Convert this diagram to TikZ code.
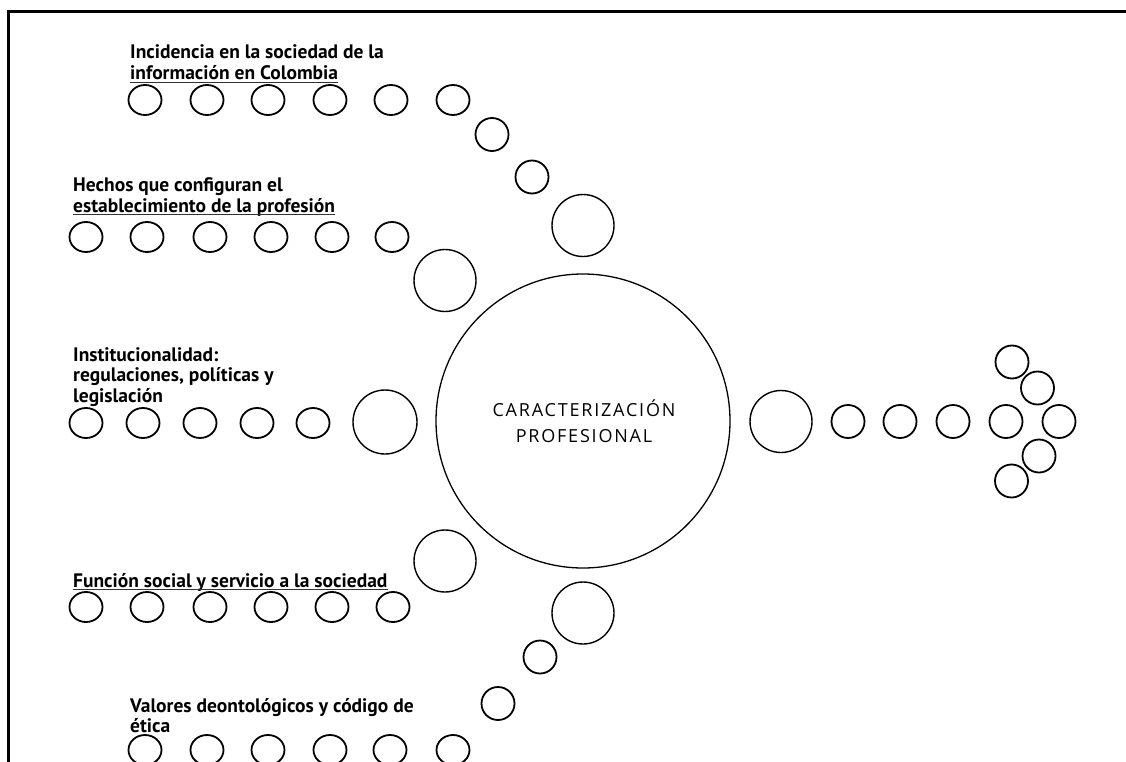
\documentclass[tikz,border=0pt]{standalone}
\usepackage{fontspec}
\usetikzlibrary{shapes.geometric}
\newfontfamily\labfont{PT Sans}
\newfontfamily\centerfont{Open Sans}[LetterSpace=10]
\begin{document}
\begin{tikzpicture}[x=1pt,y=-1pt,
  lab/.style={anchor=base west, inner sep=0pt, font=\labfont\bfseries\fontsize{19.5}{21}\selectfont},
  ctext/.style={anchor=base, inner sep=0pt, font=\centerfont\fontsize{18}{26}\selectfont, text=black},
  rowdot/.style={draw, ellipse, line width=1.8pt, minimum width=33pt, minimum height=30pt, inner sep=0pt},
  smalldot/.style={draw, circle, line width=1.8pt, minimum size=33pt, inner sep=0pt},
  bigdot/.style={draw, circle, line width=1.4pt, minimum size=62pt, inner sep=0pt},
  uline/.style={line width=0.7pt, black!80}]
\useasboundingbox (0,0) rectangle (1126,762);
\clip (0,0) rectangle (1126,762);
% frame
\draw[line width=3pt] (8,770) -- (8,12) -- (1126,12);
% main circle
\node[draw, circle, line width=1.3pt, minimum size=294pt, inner sep=0pt] (main) at (583,421) {};
\node[ctext] (mt1) at (584,416) {CARACTERIZACIÓN};
\node[ctext] (mt2) at (584,442) {PROFESIONAL};
% labels
\node[lab] (l1a) at (130,59) {Incidencia en la sociedad de la};
\node[lab] (l1b) at ([yshift=-21pt]l1a.base west) {información en Colombia};
\node[lab] (l2a) at (73,191) {Hechos que configuran el};
\node[lab] (l2b) at ([yshift=-21pt]l2a.base west) {establecimiento de la profesión};
\node[lab] (l3a) at (73,361) {Institucionalidad:};
\node[lab] (l3b) at ([yshift=-20.5pt]l3a.base west) {regulaciones, políticas y};
\node[lab] (l3c) at ([yshift=-20.5pt]l3b.base west) {legislación};
\node[lab] (l4a) at (73,587) {Función social y servicio a la sociedad};
\node[lab] (l5a) at (130,712) {Valores deontológicos y código de};
\node[lab] (l5b) at ([yshift=-20pt]l5a.base west) {ética};
\draw[uline] ([yshift=-2pt]l1b.base west) -- ([yshift=-2pt]l1b.base east);
\draw[uline] ([yshift=-2pt]l2b.base west) -- ([yshift=-2pt]l2b.base east);
\draw[uline] ([yshift=-2pt]l4a.base west) -- ([yshift=-2pt]l4a.base east);
% row 1
\foreach \x [count=\i] in {145,207,268,330,391,453} \node[rowdot] (r1\i) at (\x,100) {};
\node[smalldot] (d1) at (492,134.5) {};
\node[smalldot] (d2) at (532,177) {};
\node[bigdot] (b1) at (583,225.5) {};
% row 2
\foreach \x [count=\i] in {86,147,210,271,332,392} \node[rowdot] (r2\i) at (\x,237) {};
\node[bigdot] (b2) at (445,280.5) {};
% row 3
\foreach \x [count=\i] in {86,143,200,257,313} \node[rowdot] (r3\i) at (\x,423) {};
\node[bigdot, minimum size=64pt] (b3) at (385,422) {};
% row 4
\foreach \x [count=\i] in {86,147,210,271,332,393} \node[rowdot] (r4\i) at (\x,607) {};
\node[bigdot] (b4) at (445,561) {};
% lower diagonal
\node[bigdot] (b5) at (583,613) {};
\node[smalldot] (d3) at (540,657) {};
\node[smalldot] (d4) at (498,703.5) {};
% row 5
\foreach \x [count=\i] in {145,207,268,330,390,453} \node[rowdot] (r5\i) at (\x,750) {};
% right arrow
\node[bigdot] (b6) at (781,421.5) {};
\foreach \x [count=\i] in {848,900,953,1006,1059} \node[smalldot] (a\i) at (\x,421.5) {};
\node[smalldot] (u1) at (1012,362) {};
\node[smalldot] (u2) at (1037.5,388) {};
\node[smalldot] (w1) at (1039,456) {};
\node[smalldot] (w2) at (1011.5,481) {};
\end{tikzpicture}
\end{document}
